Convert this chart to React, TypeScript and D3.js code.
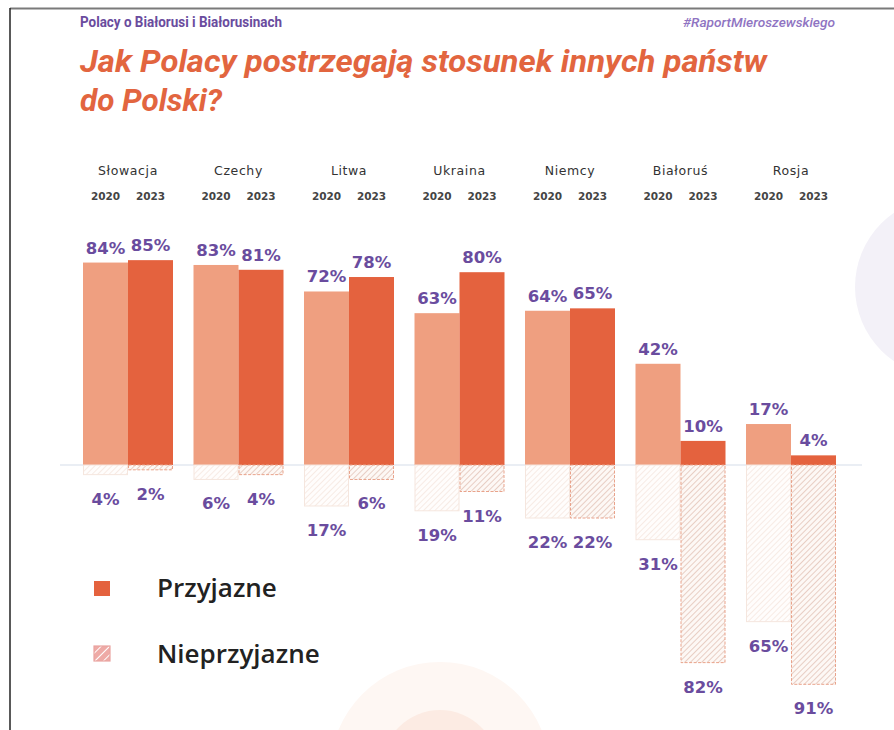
import React from "react";
import * as d3 from "d3";

const countries = ["Słowacja", "Czechy", "Litwa", "Ukraina", "Niemcy", "Białoruś", "Rosja"];
const years = ["2020", "2023"];
const friendly2020 = [84, 83, 72, 63, 64, 42, 17];
const friendly2023 = [85, 81, 78, 80, 65, 10, 4];
const unfriendly2020 = [4, 6, 17, 19, 22, 31, 65];
const unfriendly2023 = [2, 4, 6, 11, 22, 82, 91];
const legendLabels = ["Przyjazne", "Nieprzyjazne"];

const W = 894;
const H = 730;
const PURPLE = "#6a4c9e";
const LIGHT = "#ef9f80";
const DARK = "#e4623e";

export default function App() {
  const x = d3.scaleBand<string>().domain(countries).range([83, 836]).paddingInner(20.5 / 110.5).paddingOuter(0);
  const xi = d3.scaleBand<string>().domain(years).range([0, x.bandwidth()]).padding(0);
  const y = d3.scaleLinear().domain([-100, 100]).range([465 + 241, 465 - 241]);
  const bw = xi.bandwidth();

  const friendly = [friendly2020, friendly2023];
  const unfriendly = [unfriendly2020, unfriendly2023];

  return (
    <div style={{ position: "absolute", left: 0, top: 0 }}>
      <svg width={W} height={H} style={{ display: "block", background: "#fff" }}>
        <defs>
          <pattern id="hatchLight" width="4" height="4" patternUnits="userSpaceOnUse" patternTransform="rotate(45)">
            <rect width="4" height="4" fill="#fffdfc" />
            <line x1="0" y1="0" x2="0" y2="4" stroke="#f1ddd3" strokeWidth="1.1" />
          </pattern>
          <pattern id="hatchDark" width="4" height="4" patternUnits="userSpaceOnUse" patternTransform="rotate(45)">
            <rect width="4" height="4" fill="#fdf8f5" />
            <line x1="0" y1="0" x2="0" y2="4" stroke="#d8ab9c" strokeWidth="1.1" />
          </pattern>
          <pattern id="hatchLegend" width="6" height="6" patternUnits="userSpaceOnUse" patternTransform="rotate(45)">
            <rect width="6" height="6" fill="#eeaaa6" />
            <line x1="0" y1="0" x2="0" y2="6" stroke="#ffffff" strokeWidth="2" />
          </pattern>
        </defs>

        {/* decorative background circles */}
        <circle cx={945} cy={287} r={90} fill="#f3f1f8" />
        <circle cx={440} cy={772} r={110} fill="#fef7f3" />
        <circle cx={440} cy={768} r={58} fill="#fcebe3" />

        {/* frame */}
        <line x1={10} y1={8.5} x2={W} y2={8.5} stroke="#7a7a7a" strokeWidth={2} />
        <line x1={10} y1={8} x2={10} y2={H} stroke="#222" strokeWidth={1.5} />

        {/* header texts */}
        <text x={80} y={27} fontFamily="Roboto, sans-serif" fontWeight={700} fontSize={14.5} fill={PURPLE}
          textLength={202} lengthAdjust="spacingAndGlyphs">Polacy o Białorusi i Białorusinach</text>
        <text x={835} y={27} textAnchor="end" fontFamily="Roboto, sans-serif" fontStyle="italic" fontWeight={500}
          fontSize={13} fill="#8f74c2" textLength={152} lengthAdjust="spacingAndGlyphs">#RaportMieroszewskiego</text>
        <text x={80} y={72} fontFamily="Roboto, sans-serif" fontStyle="italic" fontWeight={700} fontSize={32}
          fill="#e2653f" textLength={687} lengthAdjust="spacingAndGlyphs">Jak Polacy postrzegają stosunek innych państw</text>
        <text x={80} y={111} fontFamily="Roboto, sans-serif" fontStyle="italic" fontWeight={700} fontSize={32}
          fill="#e2653f" textLength={142} lengthAdjust="spacingAndGlyphs">do Polski?</text>

        {/* baseline */}
        <line x1={60} x2={862} y1={y(0)} y2={y(0)} stroke="#e3e9f1" strokeWidth={1.5} />

        {countries.map((c, i) => {
          const gx = x(c)!;
          return (
            <g key={c}>
              <text x={gx + x.bandwidth() / 2} y={175} textAnchor="middle" fontFamily="DejaVu Sans, sans-serif"
                fontSize={12.5} letterSpacing={0.6} fill="#333">{c}</text>
              {years.map((yr, k) => {
                const bx = gx + xi(yr)!;
                const fv = friendly[k][i];
                const uv = unfriendly[k][i];
                return (
                  <g key={yr}>
                    <text x={bx + bw / 2} y={200} textAnchor="middle" fontFamily="DejaVu Sans, sans-serif"
                      fontWeight={700} fontSize={10.5} fill="#444">{yr}</text>
                    <rect x={bx} y={y(fv)} width={bw} height={y(0) - y(fv)} fill={k === 0 ? LIGHT : DARK} />
                    <rect x={bx + 0.5} y={y(0)} width={bw - 1} height={y(-uv) - y(0)}
                      fill={k === 0 ? "url(#hatchLight)" : "url(#hatchDark)"}
                      stroke={k === 0 ? "#f5e6de" : "#e9a38b"} strokeWidth={1}
                      strokeDasharray={k === 0 ? undefined : "3,1.5"} />
                    <text x={bx + bw / 2} y={y(fv) - 9} textAnchor="middle" fontFamily="DejaVu Sans, sans-serif"
                      fontWeight={700} fontSize={16.5} fill={PURPLE}>{fv}%</text>
                    <text x={bx + bw / 2} y={y(-uv) + 30} textAnchor="middle" fontFamily="DejaVu Sans, sans-serif"
                      fontWeight={700} fontSize={16.5} fill={PURPLE}>{uv}%</text>
                  </g>
                );
              })}
            </g>
          );
        })}

        {/* legend */}
        <rect x={94} y={581} width={16} height={15} fill={DARK} />
        <text x={157} y={597} fontFamily="Open Sans, sans-serif" fontWeight={600} fontSize={26} fill="#222">{legendLabels[0]}</text>
        <rect x={94} y={646} width={16} height={15} fill="url(#hatchLegend)" stroke="#e9a3a0" strokeWidth={1.2} />
        <text x={157} y={663} fontFamily="Open Sans, sans-serif" fontWeight={600} fontSize={26} fill="#222">{legendLabels[1]}</text>
      </svg>
    </div>
  );
}
